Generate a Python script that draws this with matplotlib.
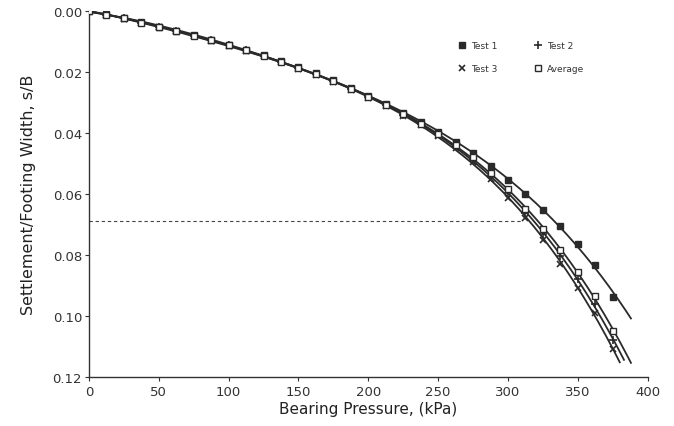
import numpy as np
import matplotlib
matplotlib.use("Agg")
import matplotlib.pyplot as plt
from matplotlib.lines import Line2D

plt.rcParams['font.family'] = ['DejaVu Sans']

# bearing pressure steps (kPa)
pressure = [0, 12.5, 25, 37.5, 50, 62.5, 75, 87.5, 100, 112.5, 125, 137.5, 150,
            162.5, 175, 187.5, 200, 212.5, 225, 237.5, 250, 262.5, 275, 287.5,
            300, 312.5, 325, 337.5, 350, 362.5, 375]

# settlement / footing width
test1 = [0.0, 0.0011, 0.0023, 0.0037, 0.0051, 0.0065, 0.0079, 0.0094, 0.0110,
         0.0127, 0.0145, 0.0164, 0.0184, 0.0205, 0.0228, 0.0252, 0.0278, 0.0305,
         0.0334, 0.0364, 0.0396, 0.0430, 0.0467, 0.0508, 0.0555, 0.0600, 0.0652,
         0.0705, 0.0764, 0.0832, 0.0938]
test2 = [0.0, 0.0012, 0.0024, 0.0038, 0.0052, 0.0066, 0.0081, 0.0096, 0.0112,
         0.0129, 0.0147, 0.0166, 0.0186, 0.0208, 0.0231, 0.0256, 0.0282, 0.0310,
         0.0340, 0.0371, 0.0404, 0.0442, 0.0487, 0.0540, 0.0598, 0.0662, 0.0732,
         0.0805, 0.0880, 0.0962, 0.1080]
test3 = [0.0, 0.0012, 0.0025, 0.0039, 0.0053, 0.0067, 0.0082, 0.0098, 0.0114,
         0.0131, 0.0149, 0.0168, 0.0189, 0.0211, 0.0234, 0.0259, 0.0285, 0.0313,
         0.0343, 0.0375, 0.0409, 0.0448, 0.0495, 0.0550, 0.0612, 0.0680, 0.0752,
         0.0830, 0.0910, 0.0990, 0.1110]
average = [0.0, 0.0012, 0.0024, 0.0038, 0.0052, 0.0066, 0.0081, 0.0096, 0.0112,
           0.0129, 0.0147, 0.0166, 0.0186, 0.0208, 0.0231, 0.0256, 0.0282, 0.0309,
           0.0339, 0.0370, 0.0403, 0.0438, 0.0480, 0.0530, 0.0585, 0.0648, 0.0715,
           0.0785, 0.0855, 0.0935, 0.1050]

# how far each fitted curve is drawn (kPa)
fit_end = {'Test 1': 388, 'Test 2': 383, 'Test 3': 380, 'Average': 388}

# dashed reference line
ref_sb = 0.069
ref_q = 309

ink = '#2a2a2a'

fig = plt.figure(figsize=(6.74, 4.27), dpi=100)
ax = fig.add_axes([0.132, 0.115, 0.829, 0.857])

series = [
    ('Test 1', test1, dict(marker='s', markersize=4.5, markerfacecolor=ink, markeredgecolor=ink)),
    ('Test 2', test2, dict(marker='+', markersize=6, markeredgecolor=ink, markeredgewidth=1.2)),
    ('Test 3', test3, dict(marker='x', markersize=5, markeredgecolor=ink, markeredgewidth=1.2)),
    ('Average', average, dict(marker='s', markersize=4.5, markerfacecolor='white', markeredgecolor=ink, markeredgewidth=1.0)),
]

q = np.array(pressure)
for name, vals, style in series:
    coef = np.polyfit(q, np.array(vals), 4)
    qq = np.linspace(0, fit_end[name], 200)
    ax.plot(qq, np.polyval(coef, qq), color=ink, lw=1.3, zorder=2)
    ax.plot(q, vals, linestyle='none', zorder=3, **style)

ax.plot([0, ref_q], [ref_sb, ref_sb], color='#444444', lw=0.8, ls=(0, (3, 2.5)))

ax.set_xlim(0, 400)
ax.set_ylim(0.12, 0.0)
ax.set_xticks(range(0, 401, 50))
ax.set_yticks([0.0, 0.02, 0.04, 0.06, 0.08, 0.10, 0.12])
ax.set_yticklabels(['0.00', '0.02', '0.04', '0.06', '0.08', '0.10', '0.12'])
ax.tick_params(colors='#333333', labelsize=9.5, length=3, width=0.8)
ax.tick_params(axis='x', pad=3)
ax.tick_params(axis='y', pad=2)
for side in ['top', 'right']:
    ax.spines[side].set_visible(False)
for side in ['left', 'bottom']:
    ax.spines[side].set_color('#333333')
    ax.spines[side].set_linewidth(1.0)

ax.set_xlabel('Bearing Pressure, (kPa)', fontsize=11, color='#222222', labelpad=2)
ax.set_ylabel('Settlement/Footing Width, s/B', fontsize=11.5, color='#222222', labelpad=12)

handles = [
    Line2D([], [], linestyle='none', **series[0][2]),
    Line2D([], [], linestyle='none', **series[2][2]),
    Line2D([], [], linestyle='none', **series[1][2]),
    Line2D([], [], linestyle='none', **series[3][2]),
]
labels = ['Test 1', 'Test 3', 'Test 2', 'Average']
ax.legend(handles, labels, ncol=2, frameon=False, fontsize=6.5,
          loc='upper left', bbox_to_anchor=(0.645, 0.94),
          handlelength=1.0, handletextpad=0.5, columnspacing=4.0,
          labelspacing=1.6, labelcolor='#333333')

fig.savefig('out.png', dpi=100)
